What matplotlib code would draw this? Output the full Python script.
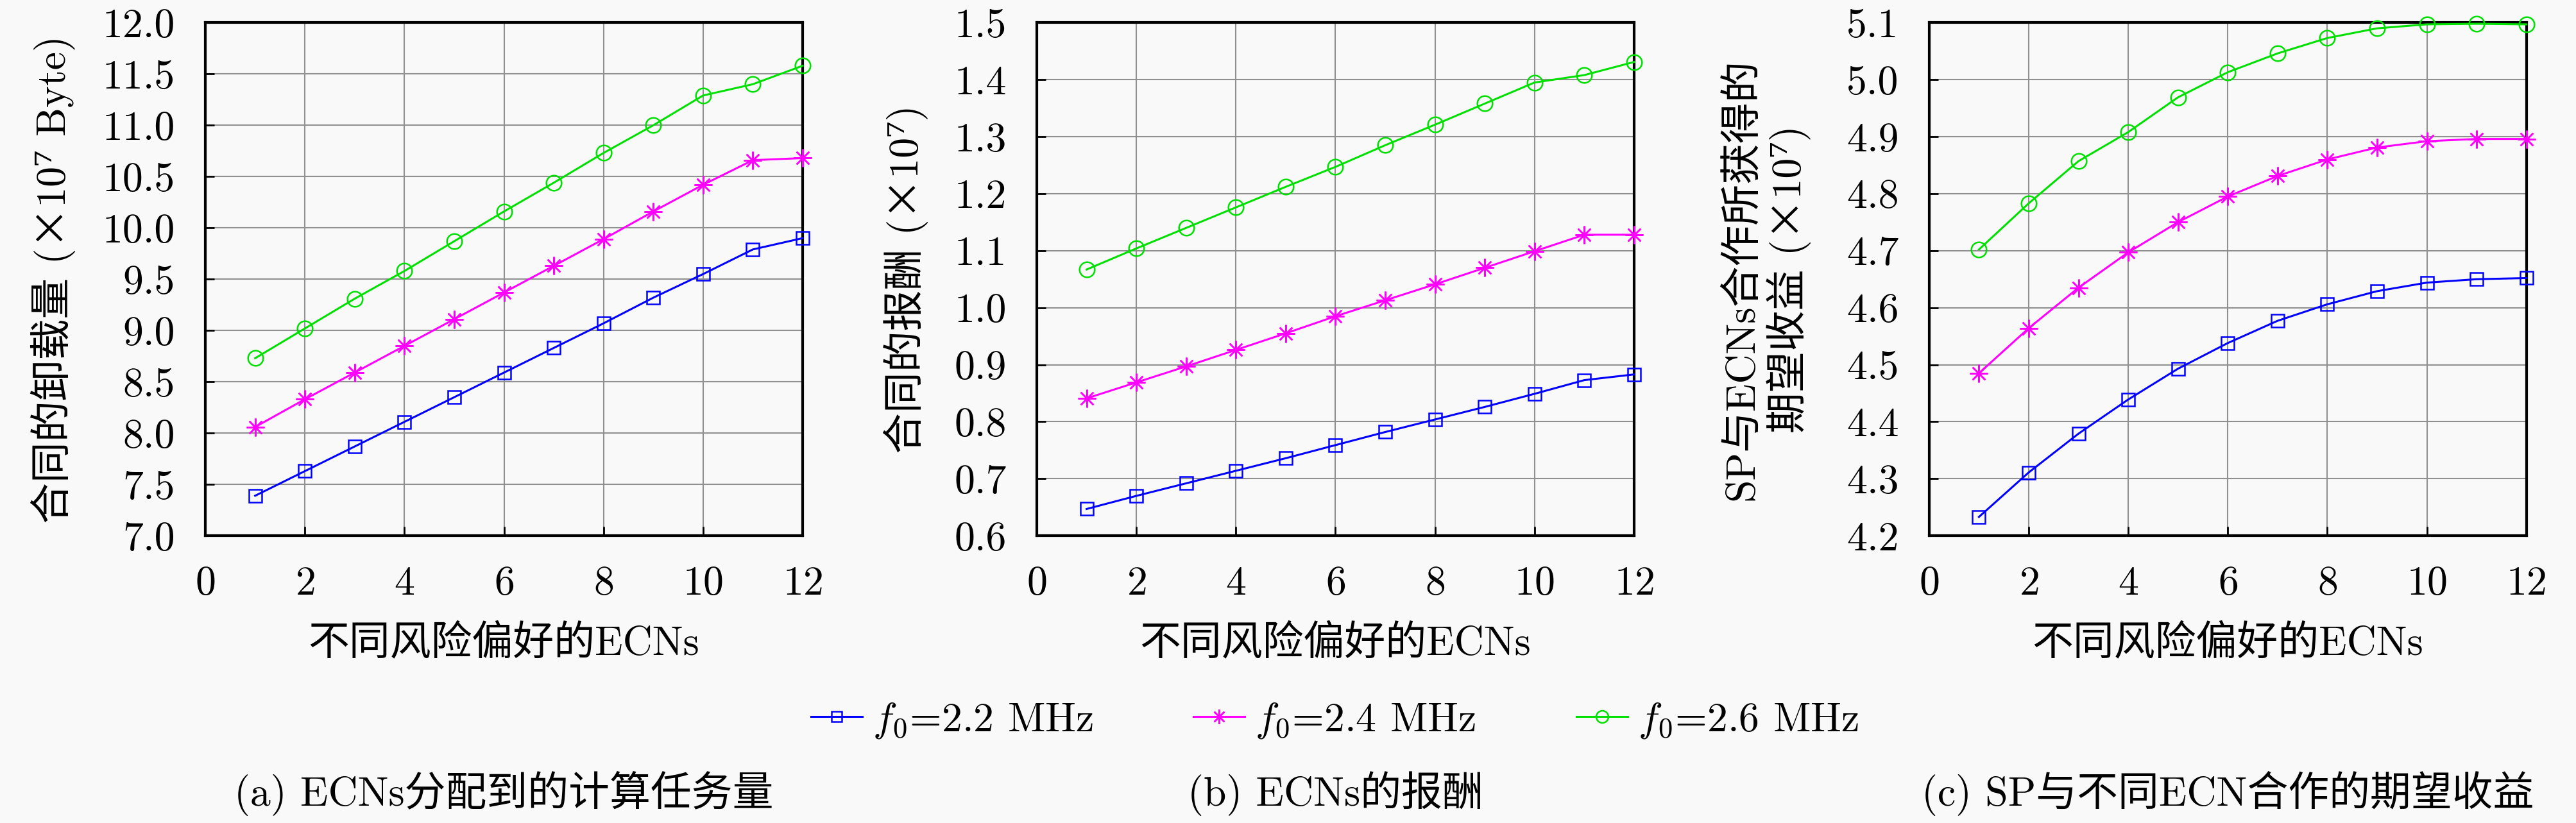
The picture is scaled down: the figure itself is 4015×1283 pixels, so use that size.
import matplotlib
matplotlib.use("Agg")
import matplotlib.pyplot as plt
from matplotlib.ticker import FormatStrFormatter, MultipleLocator

plt.rcParams['font.family'] = ['cmr10', 'Noto Sans CJK SC', 'DejaVu Serif']
plt.rcParams['mathtext.fontset'] = 'cm'
plt.rcParams['axes.formatter.use_mathtext'] = True
plt.rcParams['axes.unicode_minus'] = False

# data
ecn = [1, 2, 3, 4, 5, 6, 7, 8, 9, 10, 11, 12]
series_labels = ['$f_0$=2.2 MHz', '$f_0$=2.4 MHz', '$f_0$=2.6 MHz']

offload_22 = [7.39, 7.63, 7.87, 8.11, 8.35, 8.59, 8.83, 9.07, 9.32, 9.55, 9.79, 9.90]
offload_24 = [8.06, 8.33, 8.59, 8.85, 9.11, 9.37, 9.63, 9.89, 10.16, 10.42, 10.66, 10.68]
offload_26 = [8.73, 9.02, 9.31, 9.58, 9.87, 10.16, 10.44, 10.73, 11.00, 11.29, 11.40, 11.58]

reward_22 = [0.647, 0.670, 0.692, 0.714, 0.736, 0.759, 0.782, 0.804, 0.826, 0.849, 0.873, 0.883]
reward_24 = [0.841, 0.869, 0.897, 0.926, 0.955, 0.985, 1.013, 1.041, 1.070, 1.099, 1.128, 1.128]
reward_26 = [1.067, 1.104, 1.140, 1.176, 1.212, 1.247, 1.285, 1.321, 1.358, 1.395, 1.408, 1.431]

profit_22 = [4.233, 4.311, 4.379, 4.439, 4.493, 4.538, 4.577, 4.606, 4.629, 4.644, 4.650, 4.652]
profit_24 = [4.485, 4.564, 4.635, 4.697, 4.750, 4.795, 4.831, 4.860, 4.881, 4.892, 4.896, 4.896]
profit_26 = [4.702, 4.783, 4.857, 4.908, 4.969, 5.013, 5.046, 5.073, 5.090, 5.097, 5.098, 5.097]

xlabel = '不同风险偏好的ECNs'
# no mathtext here: mathtext would drop the CJK fallback
ylabels = ['合同的卸载量 (×10⁷ Byte)',
           '合同的报酬 (×10⁷)',
           'SP与ECNs合作所获得的\n期望收益 (×10⁷)']
captions = ['(a) ECNs分配到的计算任务量', '(b) ECNs的报酬', '(c) SP与不同ECN合作的期望收益']
ylims = [(7.0, 12.0), (0.6, 1.5), (4.2, 5.1)]
ysteps = [0.5, 0.1, 0.1]

colors = ['#0000ff', '#ff00ff', '#00e000']
markers = ['s', (8, 2, 0), 'o']
msizes = [15, 20, 17]

bg = '#f9f9f9'
fig = plt.figure(figsize=(40.16, 12.83), dpi=100, facecolor=bg)

lefts = [0.0797, 0.4024, 0.7487]
ylab_x = [-0.255, -0.219, -0.271]
panels = [(offload_22, offload_24, offload_26),
          (reward_22, reward_24, reward_26),
          (profit_22, profit_24, profit_26)]

fs = 46
handles = []
for i, data in enumerate(panels):
    ax = fig.add_axes([lefts[i], 0.349, 0.2318, 0.6235], facecolor=bg)
    for j, ys in enumerate(data):
        ln, = ax.plot(ecn, ys, color=colors[j], lw=2.2, marker=markers[j],
                      ms=msizes[j], mfc='none', mec=colors[j], mew=1.8,
                      label=series_labels[j], clip_on=False, zorder=3)
        if i == 0:
            handles.append(ln)
    ax.set_xlim(0, 12)
    ax.set_ylim(*ylims[i])
    ax.xaxis.set_major_locator(MultipleLocator(2))
    ax.yaxis.set_major_locator(MultipleLocator(ysteps[i]))
    ax.yaxis.set_major_formatter(FormatStrFormatter('%.1f'))
    ax.grid(True, color='#909090', lw=1.5)
    ax.set_axisbelow(True)
    for s in ax.spines.values():
        s.set_linewidth(3)
    ax.tick_params(direction='in', length=10, width=2, pad=34, labelsize=fs)
    ax.set_xlabel(xlabel, fontsize=fs)
    ax.xaxis.set_label_coords(0.5, -0.21)
    ax.xaxis.label.set_va('center')
    ax.set_ylabel(ylabels[i], fontsize=fs, linespacing=1.15)
    ax.yaxis.set_label_coords(ylab_x[i], 0.5)
    ax.yaxis.label.set_va('center')
    fig.text(lefts[i] + 0.2318 / 2, 0.036, captions[i], ha='center', va='center', fontsize=fs)

fig.legend(handles=handles, loc='center', bbox_to_anchor=(0.518, 0.1247), ncol=3,
           frameon=False, fontsize=fs, handlelength=1.25, handletextpad=0.25,
           columnspacing=2.45, markerscale=0.8)

fig.savefig('out.png', dpi=100, facecolor=bg)
